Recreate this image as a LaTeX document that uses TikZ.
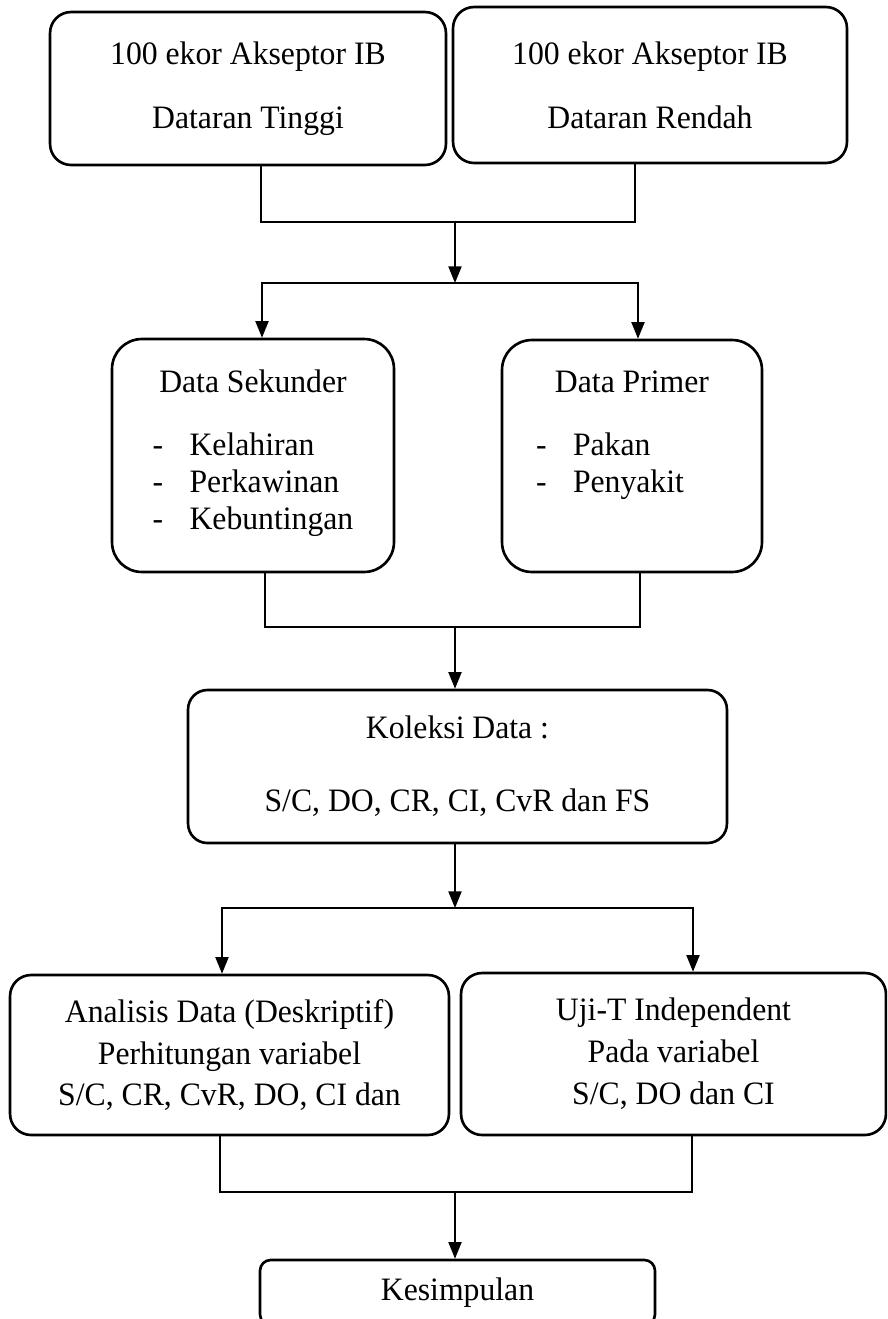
\documentclass[tikz,border=0pt]{standalone}
\usepackage{fontspec}
\setmainfont{Liberation Serif}[FakeStretch=0.97]
\usetikzlibrary{arrows.meta}

\begin{document}
\begin{tikzpicture}[
  x=0.02cm, y=-0.02cm,
  box/.style  = {draw, line width=1.5pt, align=center, inner sep=0pt,
                 font=\fontsize{18.6}{21}\selectfont},
  line/.style = {line width=0.9pt},
  arr/.style  = {line, -{Triangle[length=9.5pt,width=7.5pt]}},
]
\clip (0,0) rectangle (887,1319);
\node[box, rounded corners=12pt, minimum width=7.92cm, minimum height=3.06cm]
     (tinggi) at (248,88.5) {100 ekor Akseptor IB\\[15.4pt]Dataran Tinggi};
\node[box, rounded corners=12pt, minimum width=7.88cm, minimum height=3.12cm]
     (rendah) at (650,85) {100 ekor Akseptor IB\\[15.4pt]Dataran Rendah};
\node[box, rounded corners=17pt, minimum width=5.64cm, minimum height=4.66cm]
     (sekunder) at (253,455.5) {Data Sekunder\\[14.9pt]
     \begin{tabular}[t]{@{}l@{\hspace{15pt}}l@{}}-&Kelahiran\\-&Perkawinan\\-&Kebuntingan\end{tabular}};
\node[box, rounded corners=17pt, minimum width=5.20cm, minimum height=4.64cm]
     (primer) at (632,456) {Data Primer\\[14.9pt]
     \begin{tabular}[t]{@{}l@{\hspace{15pt}}l@{}}-&Pakan\\-&Penyakit\\&\end{tabular}\hspace*{25pt}};
\node[box, rounded corners=11pt, minimum width=10.78cm, minimum height=3.06cm]
     (koleksi) at (457.5,766.5) {Koleksi Data :\\[20.5pt]S/C, DO, CR, CI, CvR dan FS};
\node[box, rounded corners=12pt, minimum width=8.78cm, minimum height=3.20cm]
     (analisis) at (229.5,1055) {Analisis Data (Deskriptif)\\[2.9pt]Perhitungan variabel\\[2.9pt]S/C, CR, CvR, DO, CI dan};
\node[box, rounded corners=12pt, minimum width=8.50cm, minimum height=3.24cm]
     (uji) at (673.5,1054) {Uji-T Independent\\[2.9pt]Pada variabel\\[2.9pt]S/C, DO dan CI};
\node[box, rounded corners=6pt, minimum width=7.90cm, minimum height=1.30cm]
     (kesimpulan) at (457.5,1292.5) {Kesimpulan};
\coordinate (mTop) at (455,222);
\coordinate (sTop) at (455,283);
\coordinate (mMid) at (455,627);
\coordinate (sBot) at (455,908);
\coordinate (mBot) at (455,1192);
\draw[line] (261,0 |- tinggi.south) |- (mTop);
\draw[line] (635,0 |- rendah.south) |- (mTop);
\draw[arr] (mTop) -- (sTop);
\draw[arr] (sTop) -| (262,0 |- sekunder.north);
\draw[arr] (sTop) -| (638,0 |- primer.north);
\draw[line] (265,0 |- sekunder.south) |- (mMid);
\draw[line] (640,0 |- primer.south) |- (mMid);
\draw[arr] (mMid) -- (mMid |- koleksi.north);
\draw[arr] (sBot |- koleksi.south) -- (sBot);
\draw[arr] (sBot) -| (222,0 |- analisis.north);
\draw[arr] (sBot) -| (693,0 |- uji.north);
\draw[line] (220,0 |- analisis.south) |- (mBot);
\draw[line] (692,0 |- uji.south) |- (mBot);
\draw[arr] (mBot) -- (mBot |- kesimpulan.north);
\end{tikzpicture}
\end{document}
